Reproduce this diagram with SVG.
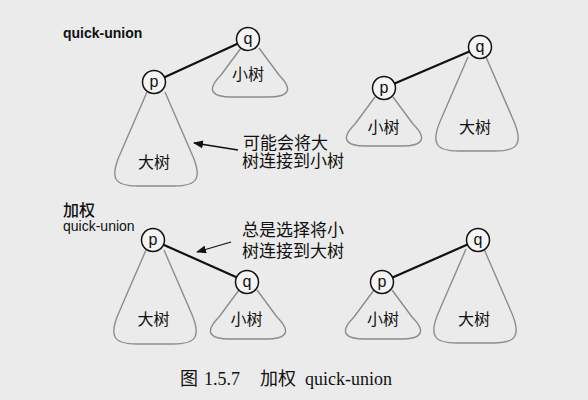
<svg xmlns="http://www.w3.org/2000/svg" xmlns:xlink="http://www.w3.org/1999/xlink" width="588" height="400" viewBox="0 0 588 400">
<style>
.bg{fill:#ebebeb}
.tree{fill:none;stroke:#8c8c8c;stroke-width:1.4;stroke-linejoin:round}
.node{fill:#f4f4f4;stroke:#111;stroke-width:1.5}
.nl{font-family:"Liberation Sans",Arial,sans-serif;font-size:16px;fill:#111;text-anchor:middle}
.tl{font-family:"Noto Sans CJK SC",sans-serif;font-size:16px;fill:#111;text-anchor:middle}
.link{stroke:#111;stroke-width:2.2;stroke-linecap:round}
.ann{stroke:#111;stroke-width:1.3}
.note{font-family:"Noto Sans CJK SC",sans-serif;font-size:17px;fill:#111}
.hdr{font-family:"Liberation Sans",Arial,sans-serif;font-size:14px;fill:#111}
.hdrc{font-family:"Noto Sans CJK SC",sans-serif;font-size:16px;font-weight:500;fill:#111}
.cap{font-family:"Liberation Serif","Noto Sans CJK SC",serif;font-size:18px;fill:#111}
</style>
<defs>
<path id="big" d="M -9,10 L -35,70 C -48,98 -40,104 -18,104 L 18,104 C 40,104 48,98 35,70 L 9,10"/>
<path id="small" d="M -9,9 L -29,36 C -45,52 -37,58 -18,58 L 18,58 C 37,58 45,52 29,36 L 9,9"/>
<marker id="ah" viewBox="0 0 10 8" refX="9" refY="4" markerWidth="10" markerHeight="8" orient="auto" markerUnits="userSpaceOnUse">
<path d="M0,0 L10,4 L0,8 z" fill="#111"/>
</marker>
</defs>
<rect class="bg" x="0" y="0" width="588" height="400"/>

<text class="hdr" x="63" y="38" font-weight="bold">quick-union</text>
<text class="hdrc" x="63" y="215.5">加权</text>
<text class="hdr" x="63" y="231">quick-union</text>

<g id="connectors">
<line class="link" x1="164.5" y1="77.2" x2="237.5" y2="43.8"/>
<line class="link" x1="394.6" y1="83.5" x2="469.4" y2="51.5"/>
<line class="link" x1="163.5" y1="244.7" x2="236.5" y2="277.3"/>
<line class="link" x1="392.5" y1="277.4" x2="467.5" y2="244.6"/>
<line class="ann" x1="238" y1="150" x2="194" y2="143" marker-end="url(#ah)"/>
<line class="ann" x1="231" y1="242" x2="197" y2="252" marker-end="url(#ah)"/>
</g>

<g id="tl-p">
<use xlink:href="#big" class="tree" transform="translate(156,82)"/>
<circle class="node" cx="154" cy="82" r="11.5"/>
<text class="nl" x="154" y="86.5">p</text>
<text class="tl" x="154" y="168">大树</text>
</g>
<g id="tl-q">
<use xlink:href="#small" class="tree" transform="translate(250,39)"/>
<circle class="node" cx="248" cy="39" r="11.5"/>
<text class="nl" x="248" y="43.5">q</text>
<text class="tl" x="248" y="80">小树</text>
</g>

<g id="tr-p">
<use xlink:href="#small" class="tree" transform="translate(384,88)"/>
<circle class="node" cx="384" cy="88" r="11.5"/>
<text class="nl" x="384" y="92.5">p</text>
<text class="tl" x="383.5" y="133">小树</text>
</g>
<g id="tr-q">
<use xlink:href="#big" class="tree" transform="translate(477,47)"/>
<circle class="node" cx="480" cy="47" r="11.5"/>
<text class="nl" x="480" y="51.5">q</text>
<text class="tl" x="475" y="133">大树</text>
</g>

<g id="bl-p">
<use xlink:href="#big" class="tree" transform="translate(155,240)"/>
<circle class="node" cx="153" cy="240" r="11.5"/>
<text class="nl" x="153" y="244.5">p</text>
<text class="tl" x="153.5" y="325">大树</text>
</g>
<g id="bl-q">
<use xlink:href="#small" class="tree" transform="translate(248,281)"/>
<circle class="node" cx="247" cy="282" r="11.5"/>
<text class="nl" x="247" y="286.5">q</text>
<text class="tl" x="246.5" y="325">小树</text>
</g>

<g id="br-p">
<use xlink:href="#small" class="tree" transform="translate(383,281)"/>
<circle class="node" cx="382" cy="282" r="11.5"/>
<text class="nl" x="382" y="286.5">p</text>
<text class="tl" x="383" y="325">小树</text>
</g>
<g id="br-q">
<use xlink:href="#big" class="tree" transform="translate(475,239)"/>
<circle class="node" cx="478" cy="240" r="11.5"/>
<text class="nl" x="478" y="244.5">q</text>
<text class="tl" x="474" y="325">大树</text>
</g>

<g id="notes">
<text class="note" x="243" y="148.5">可能会将大</text>
<text class="note" x="242" y="166.5">树连接到小树</text>
<text class="note" x="242" y="236">总是选择将小</text>
<text class="note" x="242" y="256.5">树连接到大树</text>
</g>

<text class="cap" y="385"><tspan x="180">图</tspan><tspan x="204">1.5.7</tspan><tspan x="260">加权</tspan><tspan x="305">quick-union</tspan></text>
</svg>
